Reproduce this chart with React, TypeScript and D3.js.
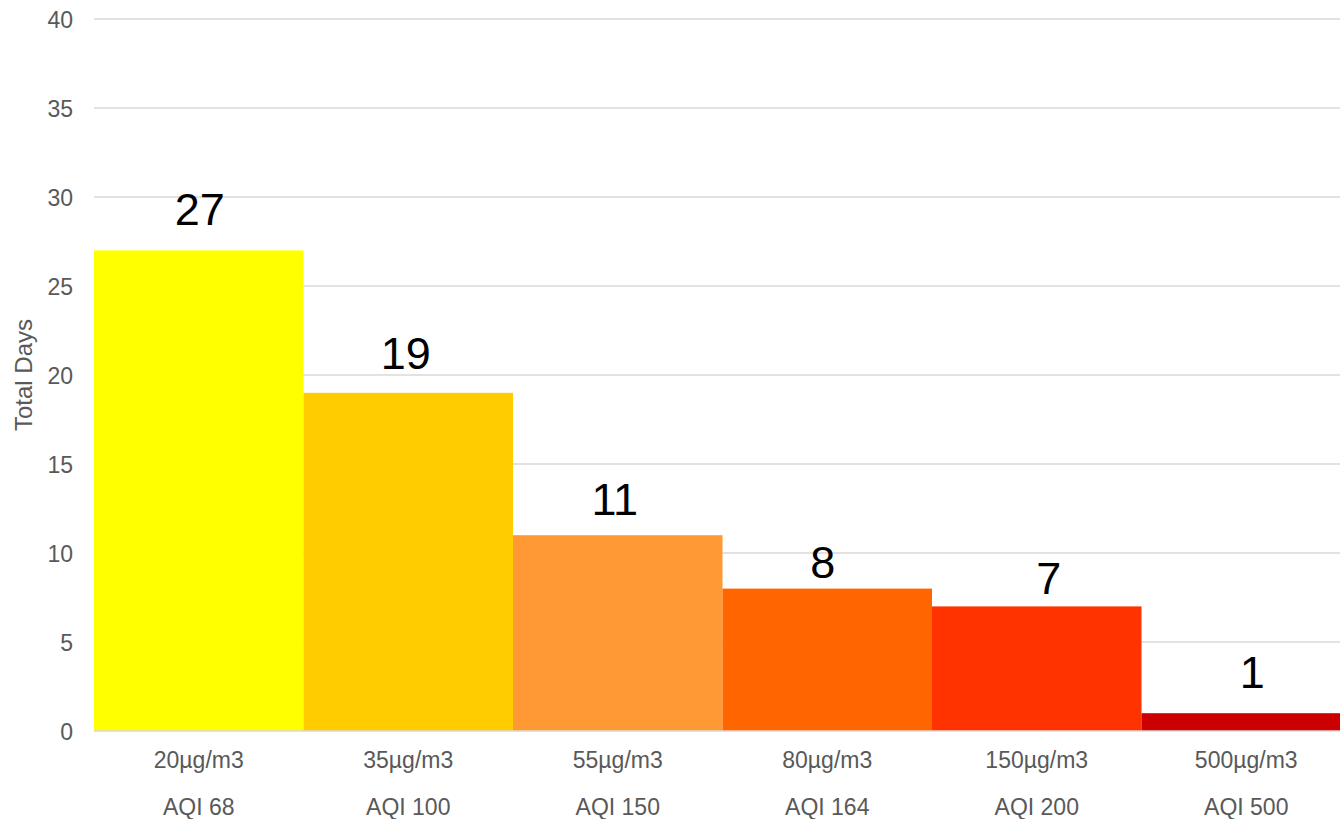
import React from "react";
import * as d3 from "d3";

const concentrations = ["20µg/m3", "35µg/m3", "55µg/m3", "80µg/m3", "150µg/m3", "500µg/m3"];
const aqiLabels = ["AQI 68", "AQI 100", "AQI 150", "AQI 164", "AQI 200", "AQI 500"];
const days = [27, 19, 11, 8, 7, 1];
const barColors = ["#FFFF00", "#FFCC00", "#FF9933", "#FF6600", "#FF3300", "#CC0000"];
const yTicks = [0, 5, 10, 15, 20, 25, 30, 35, 40];
// manual label nudges (px) as placed in the original chart
const labelDx = [1, -2.5, -3, -4.5, 12, 6];
const labelGap = [25, 23.5, 20, 11, 12, 25];

const W = 1340;
const H = 819;
const FONT = "'Liberation Sans', Arial, sans-serif";

export default function App() {
  const x = d3.scaleBand<string>().domain(concentrations).range([94, 1351]).padding(0);
  const y = d3.scaleLinear().domain([0, 40]).range([731, 19]);
  const xr = x.range();

  return (
    <svg
      width={W}
      height={H}
      style={{ position: "absolute", left: 0, top: 0, overflow: "hidden", background: "#fff" }}
      fontFamily={FONT}
    >
      {yTicks.map((t) => (
        <g key={t}>
          {t !== 0 && (
            <line x1={xr[0]} x2={xr[1]} y1={y(t)} y2={y(t)} stroke="#d9d9d9" strokeWidth={1.3} />
          )}
          <text x={73} y={y(t) + 8.5} textAnchor="end" fontSize={23} fill="#595959">
            {t}
          </text>
        </g>
      ))}
      {concentrations.map((c, i) => (
        <g key={c}>
          <rect
            x={x(c)!}
            y={y(days[i])}
            width={x.bandwidth()}
            height={y(0) - y(days[i])}
            fill={barColors[i]}
          />
          <text
            x={x(c)! + x.bandwidth() / 2 + labelDx[i]}
            y={y(days[i]) - labelGap[i]}
            textAnchor="middle"
            fontSize={45}
            fill="#000"
          >
            {days[i]}
          </text>
          <text
            x={x(c)! + x.bandwidth() / 2}
            y={768}
            textAnchor="middle"
            fontSize={23}
            fill="#595959"
          >
            {c}
          </text>
          <text
            x={x(c)! + x.bandwidth() / 2}
            y={815}
            textAnchor="middle"
            fontSize={23}
            fill="#595959"
          >
            {aqiLabels[i]}
          </text>
        </g>
      ))}
      <line x1={xr[0]} x2={xr[1]} y1={y(0)} y2={y(0)} stroke="#d9d9d9" strokeWidth={1.7} />
      <text
        transform={`translate(32, ${y(20)}) rotate(-90)`}
        textAnchor="middle"
        fontSize={24}
        fill="#595959"
      >
        Total Days
      </text>
    </svg>
  );
}
